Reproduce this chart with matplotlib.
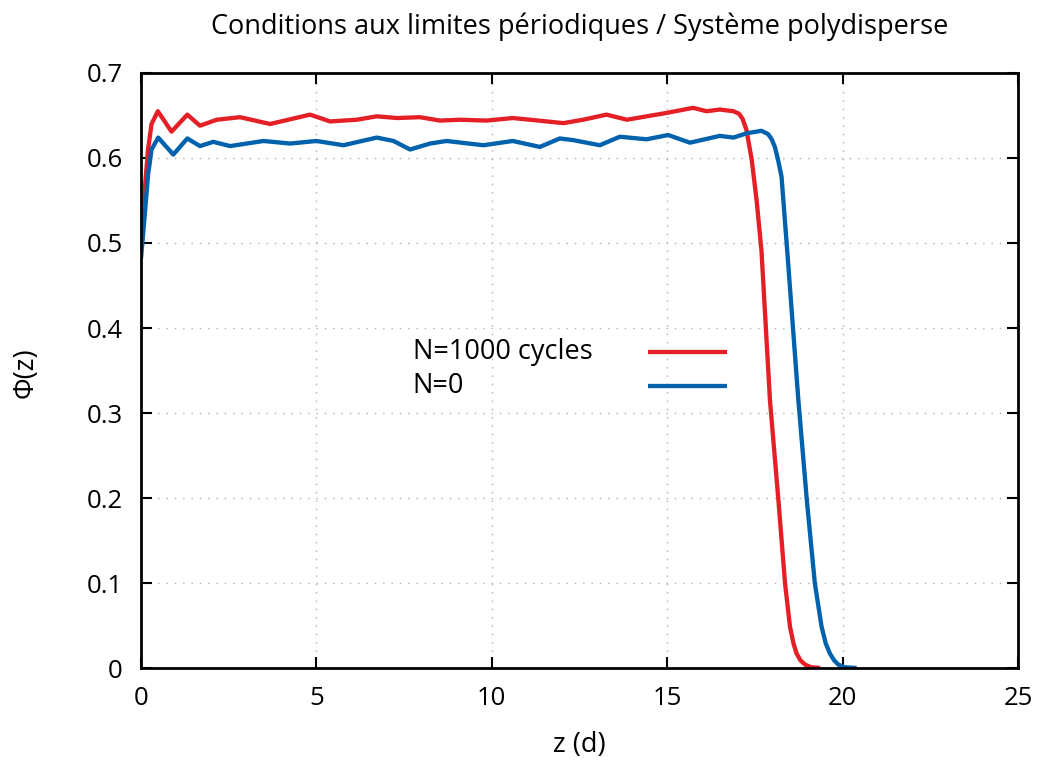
import matplotlib
matplotlib.use("Agg")
from matplotlib import pyplot as plt

plt.rcParams['font.family'] = ['Open Sans', 'DejaVu Sans']

# N=1000 cycles (red)
z_red = [0, 0.1, 0.2, 0.3, 0.48, 0.87, 1.32, 1.68, 2.16, 2.82, 3.68, 4.82, 5.39,
         6.15, 6.72, 7.3, 7.95, 8.52, 9.09, 9.85, 10.6, 11.09, 12.04, 12.6, 13.27,
         13.85, 14.98, 15.74, 16.12, 16.5, 16.89, 17.05, 17.15, 17.26, 17.41, 17.55,
         17.69, 17.93, 18.17, 18.36, 18.5, 18.6, 18.69, 18.8, 18.93, 19.1, 19.36]
phi_red = [0.498, 0.56, 0.61, 0.64, 0.655, 0.631, 0.651, 0.638, 0.645, 0.648, 0.640,
           0.651, 0.643, 0.645, 0.649, 0.647, 0.648, 0.644, 0.645, 0.644, 0.647, 0.645,
           0.641, 0.645, 0.651, 0.645, 0.653, 0.659, 0.655, 0.657, 0.655, 0.652, 0.646,
           0.633, 0.598, 0.55, 0.49, 0.315, 0.198, 0.0996, 0.049, 0.029, 0.017, 0.009,
           0.004, 0.001, 0.0]

# N=0 (blue)
z_blue = [0, 0.1, 0.2, 0.3, 0.49, 0.92, 1.32, 1.68, 2.06, 2.54, 3.49, 4.25, 5.0, 5.77,
          6.72, 7.2, 7.67, 8.24, 8.71, 9.76, 10.6, 11.37, 11.94, 12.32, 13.08, 13.65,
          14.41, 15.03, 15.65, 16.5, 16.89, 17.26, 17.69, 17.88, 17.98, 18.07, 18.16,
          18.26, 18.42, 18.74, 18.98, 19.21, 19.4, 19.52, 19.64, 19.76, 19.88, 20.05, 20.4]
phi_blue = [0.482, 0.53, 0.58, 0.61, 0.624, 0.604, 0.623, 0.614, 0.619, 0.614, 0.620,
            0.617, 0.620, 0.615, 0.624, 0.620, 0.610, 0.617, 0.620, 0.615, 0.620, 0.613,
            0.623, 0.621, 0.615, 0.625, 0.622, 0.627, 0.618, 0.626, 0.624, 0.629, 0.632,
            0.628, 0.622, 0.613, 0.598, 0.578, 0.492, 0.315, 0.198, 0.0996, 0.049, 0.029,
            0.017, 0.009, 0.004, 0.001, 0.0]

labels = ['N=1000 cycles', 'N=0']
colors = ['#e41f26', '#0062ad']
x_ticks = [0, 5, 10, 15, 20, 25]
y_ticks = [0, 0.1, 0.2, 0.3, 0.4, 0.5, 0.6, 0.7]

fig = plt.figure(figsize=(10.4, 7.69), dpi=100)
ax = fig.add_axes([0.1356, 0.1313, 0.8432, 0.7738])

ax.plot(z_red, phi_red, color=colors[0], lw=3.1, solid_capstyle='butt')
ax.plot(z_blue, phi_blue, color=colors[1], lw=3.1, solid_capstyle='butt')

ax.set_xlim(0, 25)
ax.set_ylim(0, 0.7)
ax.set_xticks(x_ticks)
ax.set_yticks(y_ticks)
ax.set_xticklabels([f'{v:g}' for v in x_ticks])
ax.set_yticklabels([f'{v:g}' for v in y_ticks])
ax.tick_params(direction='in', length=8, width=1.5, top=True, right=True,
               labelsize=18.5, pad=13)
for s in ax.spines.values():
    s.set_linewidth(2)
ax.grid(True, color='#b0b0b0', linestyle=(0, (1, 5)), linewidth=1)

ax.text(0.5, 1.077, 'Conditions aux limites périodiques / Système polydisperse',
        transform=ax.transAxes, fontsize=19.5, ha='center', va='center')
ax.text(0.5, -0.129, 'z (d)', transform=ax.transAxes, fontsize=19.5,
        ha='center', va='center')
ax.text(-0.132, 0.497, 'Φ(z)', transform=ax.transAxes, fontsize=19.5,
        ha='center', va='center', rotation=90)

# key, gnuplot style: text left, sample on the right
for i, (lab, col) in enumerate(zip(labels, colors)):
    yk = 0.531 - i * 0.057
    ax.text(0.31, yk, lab, transform=ax.transAxes, fontsize=19.5, va='center', ha='left')
    ax.plot([0.578, 0.668], [yk, yk], transform=ax.transAxes, color=col, lw=3.1,
            solid_capstyle='butt')

fig.savefig('out.png', dpi=100)
